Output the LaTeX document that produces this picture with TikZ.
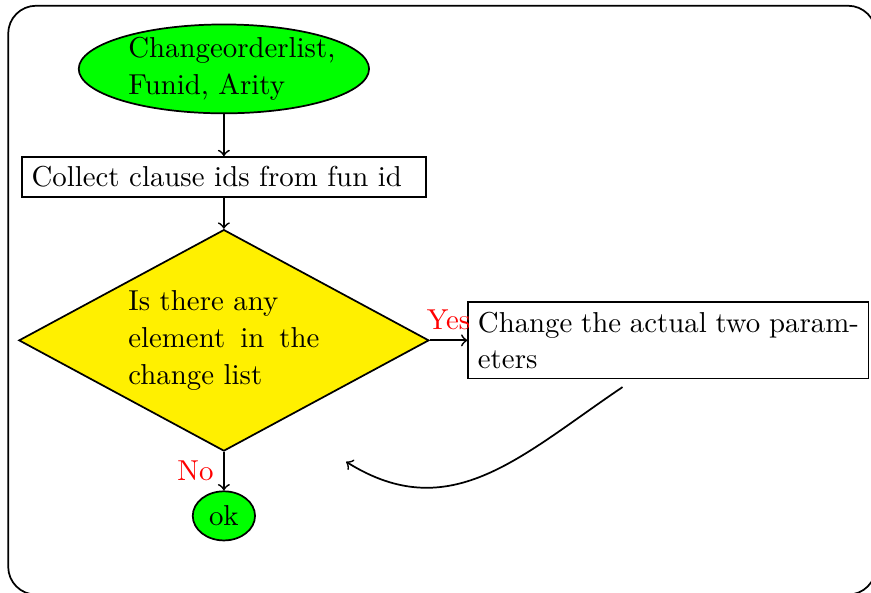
\documentclass[tikz,border=0pt]{standalone}
\usepackage{amsmath}
\usepackage{tikz}
\usetikzlibrary{shapes.geometric}
\definecolor{decideyellow}{RGB}{255,240,0}

\begin{document}
\begin{tikzpicture}[x={(1cm,0cm)}, y={(0cm,1cm)}, semithick,
    every node/.style={font=\fontsize{10}{12.7}\selectfont},
    startstop/.style={ellipse, draw, fill=green},
    process/.style={rectangle, draw, align=left},
    decision/.style={diamond, draw, fill=decideyellow, inner sep=0pt, aspect=1.86},
    answer/.style={red}]
        \useasboundingbox (0,0) rectangle (10.62,-7.22);
        \draw[rounded corners=0.34cm] (0.10,-0.07) rectangle (10.68,-7.25);

        \node[startstop, inner sep=0pt, text width=2.33cm, minimum width=3.54cm, align=left] (start) at (2.73,-0.84) {Changeorderlist, Funid, Arity};
        \node[process, text width=4.69cm] (collect) at (2.73,-2.16) {Collect clause ids from fun id};
        \node[decision, text width=2.33cm, align=justify, minimum width=5cm, minimum height=2.7cm] (check) at (2.73,-4.15) {Is there any\\ element in the change list};
        \node[process, text width=4.645cm, align=justify] (change) at (8.15,-4.15) {Change the actual two param\-eters};
        \node[startstop, inner sep=2.5pt] (ok) at (2.73,-6.29) {ok};

        \coordinate (loopstart) at (7.59,-4.72);
        \coordinate (loopend) at (4.22,-5.63);

        \draw[->] (start) -- (collect);
        \draw[->] (collect) -- (check);
        \draw[->] (check) -- node[above, answer]{Yes} (change);
        \draw[->] (check) -- node[left, answer]{No} (ok);
        \draw[->] (loopstart) to[out=-146, in=-32, looseness=1.1] (loopend);
    \end{tikzpicture}
\end{document}
